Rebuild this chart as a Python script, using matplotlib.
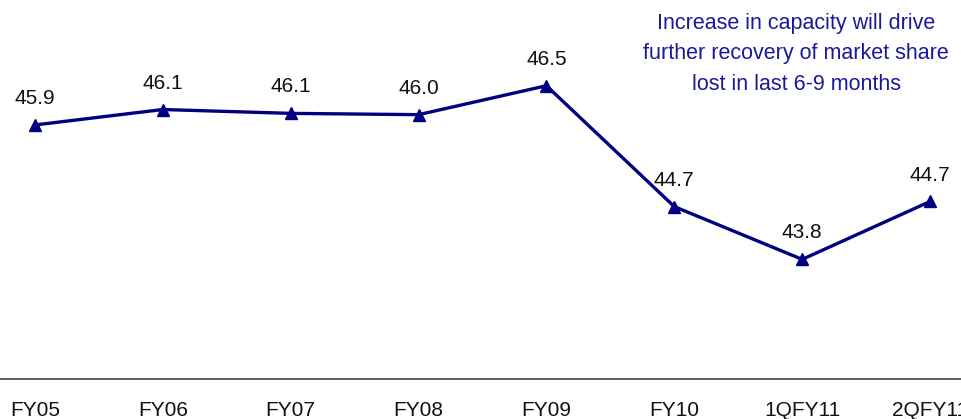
import matplotlib
matplotlib.use("Agg")
import matplotlib.pyplot as plt

# Datos de la grafica
periodos = ["FY05", "FY06", "FY07", "FY08", "FY09", "FY10", "1QFY11", "2QFY11"]
valores = [45.89, 46.13, 46.07, 46.05, 46.5, 44.62, 43.8, 44.70]
etiquetas = ["45.9", "46.1", "46.1", "46.0", "46.5", "44.7", "43.8", "44.7"]
nota = "Increase in capacity will drive\nfurther recovery of market share\nlost in last 6-9 months"

plt.rcParams['font.family'] = ['Liberation Sans', 'DejaVu Sans']

W, H = 962, 419
fig = plt.figure(figsize=(W / 100, H / 100), dpi=100)

# El grafico original esta recortado: los ejes salen del borde de la imagen
izq, der = -29, 994
abajo, arriba = 379, -86
ax = fig.add_axes([izq / W, 1 - abajo / H, (der - izq) / W, (abajo - arriba) / H])

x = list(range(len(periodos)))
ax.plot(x, valores, color='#000080', linewidth=2.4, marker='^', markersize=9,
        markeredgecolor='#000080', markerfacecolor='#000080', clip_on=False)

for xi, v, t in zip(x, valores, etiquetas):
    ax.annotate(t, (xi, v), xytext=(0, 19), textcoords='offset points',
                ha='center', va='center', fontsize=15, color='#111111')

ax.set_xlim(-0.5, len(periodos) - 0.5)
ax.set_ylim(41.94, 49.17)

ax.set_xticks(x)
ax.set_xticklabels(periodos, fontsize=15, color='#111111')
ax.tick_params(axis='x', length=0, pad=16)
ax.set_yticks([])

for lado in ['left', 'right', 'top']:
    ax.spines[lado].set_visible(False)
ax.spines['bottom'].set_color('#444444')
ax.spines['bottom'].set_linewidth(1.2)

fig.text(796 / W, 1 - 54 / H, nota, ha='center', va='center', fontsize=15.5,
         color='#1a1a9a', linespacing=1.6)

fig.savefig("out.png", dpi=100)
